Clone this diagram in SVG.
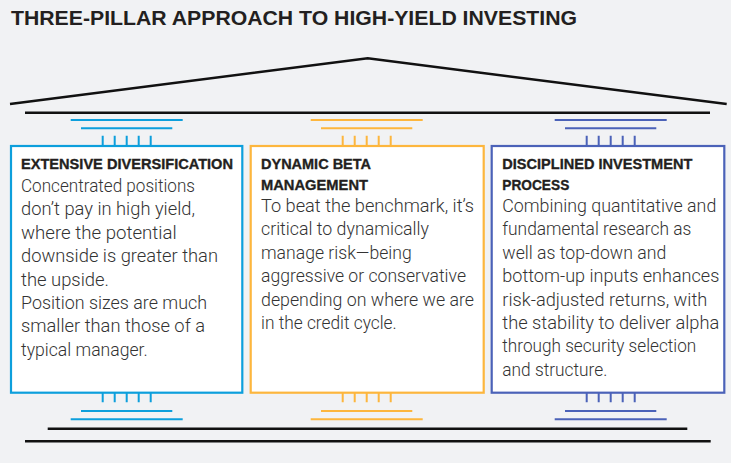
<svg xmlns="http://www.w3.org/2000/svg" width="731" height="463" viewBox="0 0 731 463">
  <style>
    .title { font-family: "Liberation Sans", Arial, sans-serif; font-weight: bold; font-size: 19.5px; fill: #231f20; }
    .head { font-family: "Liberation Sans", Arial, sans-serif; font-weight: bold; font-size: 15.5px; fill: #231f20; stroke: #231f20; stroke-width: 0.35; }
    .body { font-family: Roboto, "Liberation Sans", Arial, sans-serif; font-weight: 300; font-size: 18.8px; fill: #333333; }
    .frame { fill: none; stroke: #111111; stroke-width: 2.5; }
    .box { fill: #ffffff; stroke-width: 2.2; }
    .deco { fill: none; stroke-width: 2; }
    .blue { stroke: #0d9fdc; }
    .orange { stroke: #fdb63d; }
    .purple { stroke: #4b62b8; }
  </style>

  <rect x="0" y="0" width="731" height="463" fill="#f1f2f4"/>

  <text class="title" x="11" y="25" textLength="566" lengthAdjust="spacingAndGlyphs">THREE-PILLAR APPROACH TO HIGH-YIELD INVESTING</text>

  <!-- roof, architrave and base steps -->
  <g id="temple-frame">
    <polyline class="frame" points="10,104 367.7,58.3 726.7,104"/>
    <line class="frame" x1="25" y1="112.7" x2="710" y2="112.7"/>
    <line class="frame" x1="47.7" y1="428.7" x2="687.3" y2="428.7"/>
    <line class="frame" x1="25" y1="441.3" x2="710.7" y2="441.3"/>
  </g>

  <!-- pillar 1 -->
  <g id="pillar-diversification">
    <g class="deco blue">
      <line x1="70.7" y1="120" x2="182.7" y2="120"/>
      <line x1="81" y1="128.3" x2="172.3" y2="128.3"/>
      <path d="M102.7,135.7V146M114.7,135.7V146M126.7,135.7V146M138.7,135.7V146M150.7,135.7V146"/>
      <path d="M102.7,392V402.3M114.7,392V402.3M126.7,392V402.3M138.7,392V402.3M150.7,392V402.3"/>
      <line x1="81" y1="411" x2="172.3" y2="411"/>
      <line x1="70.7" y1="419.3" x2="182.7" y2="419.3"/>
    </g>
    <rect class="box blue" x="11" y="146" width="231.3" height="246.7"/>
    <text class="head" x="21" y="169" textLength="212" lengthAdjust="spacingAndGlyphs">EXTENSIVE DIVERSIFICATION</text>
    <text class="body" x="21" y="192" textLength="174" lengthAdjust="spacingAndGlyphs">Concentrated positions</text>
    <text class="body" x="21" y="215.4" textLength="174" lengthAdjust="spacingAndGlyphs">don’t pay in high yield,</text>
    <text class="body" x="21" y="238.8" textLength="155.7" lengthAdjust="spacingAndGlyphs">where the potential</text>
    <text class="body" x="21" y="262.2" textLength="197" lengthAdjust="spacingAndGlyphs">downside is greater than</text>
    <text class="body" x="21" y="285.6" textLength="88" lengthAdjust="spacingAndGlyphs">the upside.</text>
    <text class="body" x="21" y="309" textLength="186" lengthAdjust="spacingAndGlyphs">Position sizes are much</text>
    <text class="body" x="21" y="332.4" textLength="184" lengthAdjust="spacingAndGlyphs">smaller than those of a</text>
    <text class="body" x="21" y="355.8" textLength="126.7" lengthAdjust="spacingAndGlyphs">typical manager.</text>
  </g>

  <!-- pillar 2 -->
  <g id="pillar-beta">
    <g class="deco orange">
      <line x1="310.7" y1="120" x2="422.7" y2="120"/>
      <line x1="321" y1="128.3" x2="412.3" y2="128.3"/>
      <path d="M342.7,135.7V146M354.7,135.7V146M366.7,135.7V146M378.7,135.7V146M390.7,135.7V146"/>
      <path d="M342.7,392V402.3M354.7,392V402.3M366.7,392V402.3M378.7,392V402.3M390.7,392V402.3"/>
      <line x1="321" y1="411" x2="412.3" y2="411"/>
      <line x1="310.7" y1="419.3" x2="422.7" y2="419.3"/>
    </g>
    <rect class="box orange" x="250.7" y="146" width="233" height="246.7"/>
    <text class="head" x="261" y="169" textLength="110" lengthAdjust="spacingAndGlyphs">DYNAMIC BETA</text>
    <text class="head" x="261" y="190" textLength="107" lengthAdjust="spacingAndGlyphs">MANAGEMENT</text>
    <text class="body" x="261" y="212" textLength="213" lengthAdjust="spacingAndGlyphs">To beat the benchmark, it’s</text>
    <text class="body" x="261" y="235.4" textLength="168" lengthAdjust="spacingAndGlyphs">critical to dynamically</text>
    <text class="body" x="261" y="258.8" textLength="150.7" lengthAdjust="spacingAndGlyphs">manage risk—being</text>
    <text class="body" x="261" y="282.2" textLength="205" lengthAdjust="spacingAndGlyphs">aggressive or conservative</text>
    <text class="body" x="261" y="305.6" textLength="213" lengthAdjust="spacingAndGlyphs">depending on where we are</text>
    <text class="body" x="261" y="329" textLength="135.7" lengthAdjust="spacingAndGlyphs">in the credit cycle.</text>
  </g>

  <!-- pillar 3 -->
  <g id="pillar-process">
    <g class="deco purple">
      <line x1="554.7" y1="120" x2="666.7" y2="120"/>
      <line x1="565" y1="128.3" x2="656.3" y2="128.3"/>
      <path d="M586.7,135.7V146M598.7,135.7V146M610.7,135.7V146M622.7,135.7V146M634.7,135.7V146"/>
      <path d="M586.7,392V402.3M598.7,392V402.3M610.7,392V402.3M622.7,392V402.3M634.7,392V402.3"/>
      <line x1="565" y1="411" x2="656.3" y2="411"/>
      <line x1="554.7" y1="419.3" x2="666.7" y2="419.3"/>
    </g>
    <rect class="box purple" x="491.7" y="146" width="232.6" height="246.7"/>
    <text class="head" x="502.3" y="169" textLength="190" lengthAdjust="spacingAndGlyphs">DISCIPLINED INVESTMENT</text>
    <text class="head" x="502.3" y="190" textLength="67" lengthAdjust="spacingAndGlyphs">PROCESS</text>
    <text class="body" x="502.3" y="212" textLength="214" lengthAdjust="spacingAndGlyphs">Combining quantitative and</text>
    <text class="body" x="502.3" y="235.4" textLength="189" lengthAdjust="spacingAndGlyphs">fundamental research as</text>
    <text class="body" x="502.3" y="258.8" textLength="164" lengthAdjust="spacingAndGlyphs">well as top-down and</text>
    <text class="body" x="502.3" y="282.2" textLength="217" lengthAdjust="spacingAndGlyphs">bottom-up inputs enhances</text>
    <text class="body" x="502.3" y="305.6" textLength="205" lengthAdjust="spacingAndGlyphs">risk-adjusted returns, with</text>
    <text class="body" x="502.3" y="329" textLength="217" lengthAdjust="spacingAndGlyphs">the stability to deliver alpha</text>
    <text class="body" x="502.3" y="352.4" textLength="194" lengthAdjust="spacingAndGlyphs">through security selection</text>
    <text class="body" x="502.3" y="375.8" textLength="105" lengthAdjust="spacingAndGlyphs">and structure.</text>
  </g>
</svg>
